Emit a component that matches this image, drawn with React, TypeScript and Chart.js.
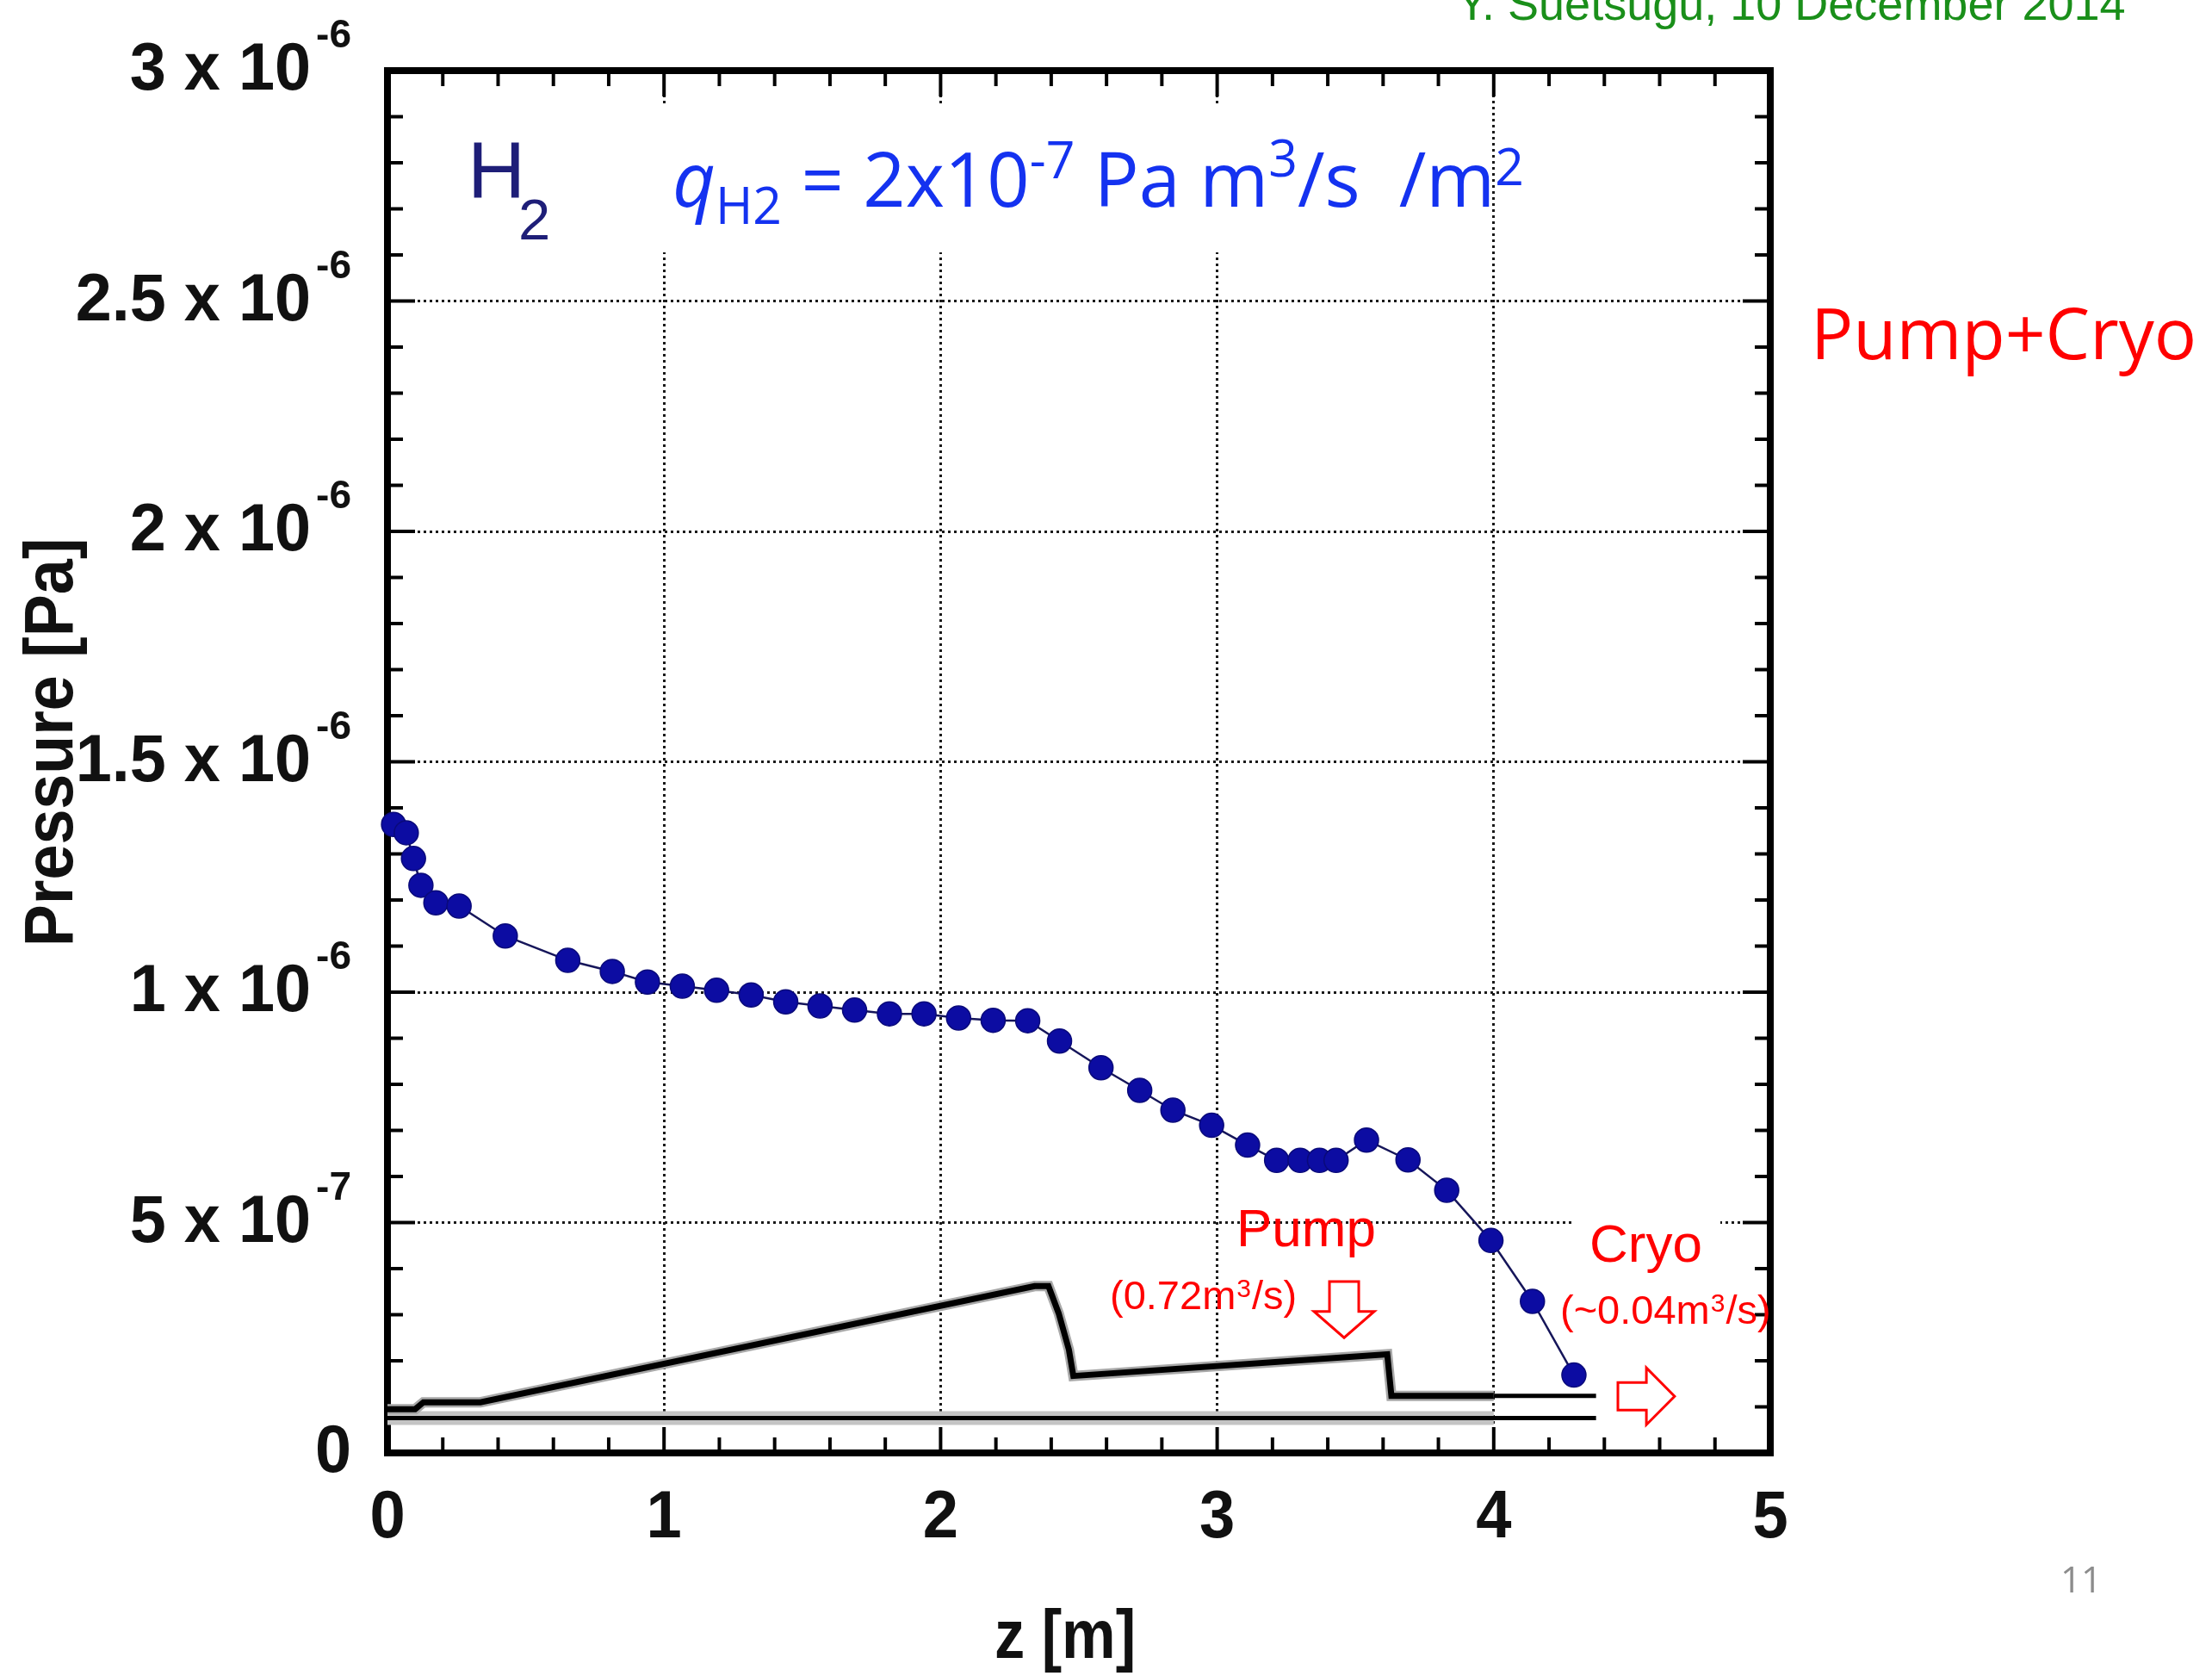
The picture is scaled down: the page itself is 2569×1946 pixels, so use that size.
import React, { useEffect, useRef } from 'react';
import { Chart, registerables } from 'chart.js';

Chart.register(...registerables);

const W = 2569;
const H = 1946;

// Measured pressure profile (z in m, pressure in Pa)
const zPositions = [0.022, 0.068, 0.094, 0.121, 0.175, 0.259, 0.426, 0.652, 0.813, 0.94, 1.066, 1.19, 1.315, 1.44, 1.564, 1.689, 1.815, 1.94, 2.065, 2.19, 2.315, 2.43, 2.58, 2.72, 2.84, 2.98, 3.11, 3.215, 3.30, 3.37, 3.43, 3.54, 3.69, 3.83, 3.99, 4.14, 4.29];
const pressures = [1.364e-6, 1.346e-6, 1.29e-6, 1.232e-6, 1.194e-6, 1.187e-6, 1.122e-6, 1.069e-6, 1.045e-6, 1.022e-6, 1.013e-6, 1.004e-6, 0.994e-6, 0.979e-6, 0.97e-6, 0.961e-6, 0.953e-6, 0.953e-6, 0.944e-6, 0.939e-6, 0.938e-6, 0.894e-6, 0.836e-6, 0.787e-6, 0.744e-6, 0.711e-6, 0.668e-6, 0.635e-6, 0.635e-6, 0.635e-6, 0.635e-6, 0.679e-6, 0.636e-6, 0.57e-6, 0.461e-6, 0.329e-6, 0.169e-6];

// Chamber outline sketch (drawn in the same axes)
const wallZ = [0, 0.1, 0.13, 0.336, 2.34, 2.39, 2.427, 2.464, 2.48, 3.615, 3.63, 4.0];
const wallP = [0.095e-6, 0.095e-6, 0.11e-6, 0.11e-6, 0.362e-6, 0.362e-6, 0.303e-6, 0.224e-6, 0.167e-6, 0.214e-6, 0.124e-6, 0.124e-6];
const wallExtZ = [4.0, 4.37];
const wallExtP = [0.124e-6, 0.124e-6];
const beamLineZ = [0, 4.37];
const beamLineP = [0.0757e-6, 0.0757e-6];
const beamHaloZ = [0, 4.0];
const beamHaloP = [0.0757e-6, 0.0757e-6];

// Axis ticks
const xTickValues = [0, 1, 2, 3, 4, 5];
const xTickLabels = ['0', '1', '2', '3', '4', '5'];
const yTickValues = [0, 5e-7, 1e-6, 1.5e-6, 2e-6, 2.5e-6, 3e-6];
const yTickMain = ['0', '5 x 10', '1 x 10', '1.5 x 10', '2 x 10', '2.5 x 10', '3 x 10'];
const yTickExp = ['', '-7', '-6', '-6', '-6', '-6', '-6'];

const ARIAL = '"Liberation Sans", Arial, sans-serif';
const CAL = '"Open Sans", "Noto Sans", sans-serif';

function pts(xs: number[], ys: number[]) {
  return xs.map((x, i) => ({ x, y: ys[i] }));
}

function txt(ctx: CanvasRenderingContext2D, s: string, x: number, y: number, font: string, color: string, align: CanvasTextAlign = 'left', sx = 1) {
  ctx.save();
  ctx.font = font;
  ctx.fillStyle = color;
  ctx.textAlign = align;
  ctx.textBaseline = 'alphabetic';
  ctx.translate(x, y);
  ctx.scale(sx, 1);
  ctx.fillText(s, 0, 0);
  ctx.restore();
}

function measure(ctx: CanvasRenderingContext2D, s: string, font: string) {
  ctx.save();
  ctx.font = font;
  const w = ctx.measureText(s).width;
  ctx.restore();
  return w;
}

// draws rich text pieces in sequence, squeezed horizontally to fit a target width
function rich(ctx: CanvasRenderingContext2D, pieces: { s: string; font: string; dy: number }[], x: number, y: number, targetW: number, color: string) {
  const ws = pieces.map((p) => measure(ctx, p.s, p.font));
  const total = ws.reduce((a, b) => a + b, 0);
  const sx = targetW / total;
  ctx.save();
  ctx.translate(x, y);
  ctx.scale(sx, 1);
  let cx = 0;
  pieces.forEach((p, i) => {
    ctx.font = p.font;
    ctx.fillStyle = color;
    ctx.textAlign = 'left';
    ctx.textBaseline = 'alphabetic';
    ctx.fillText(p.s, cx, p.dy);
    cx += ws[i];
  });
  ctx.restore();
}

function line(ctx: CanvasRenderingContext2D, x1: number, y1: number, x2: number, y2: number) {
  ctx.beginPath();
  ctx.moveTo(x1, y1);
  ctx.lineTo(x2, y2);
  ctx.stroke();
}

const decorPlugin = {
  id: 'decor',
  beforeDatasetsDraw(chart: any) {
    const { ctx, chartArea: ca, scales } = chart;
    const xs = scales.x;
    const ys = scales.y;
    ctx.save();
    // white backgrounds behind annotation text
    ctx.fillStyle = '#ffffff';
    ctx.fillRect(700, 123, 1020, 170);
    ctx.fillRect(1828, 1395, 170, 80);
    // frame
    ctx.strokeStyle = '#000';
    ctx.lineWidth = 8;
    ctx.strokeRect(ca.left, ca.top, ca.right - ca.left, ca.bottom - ca.top);
    // inward ticks
    ctx.lineWidth = 4;
    for (let i = 0; i <= 25; i++) {
      const px = xs.getPixelForValue(i * 0.2);
      const len = i % 5 === 0 ? 30 : 18;
      line(ctx, px, ca.bottom, px, ca.bottom - len);
      line(ctx, px, ca.top, px, ca.top + len);
    }
    for (let i = 0; i <= 30; i++) {
      const py = ys.getPixelForValue(i * 1e-7);
      const len = i % 5 === 0 ? 32 : 18;
      line(ctx, ca.left, py, ca.left + len, py);
      line(ctx, ca.right, py, ca.right - len, py);
    }
    ctx.restore();
  },
  afterDraw(chart: any) {
    const { ctx, scales } = chart;
    const xs = scales.x;
    const ys = scales.y;
    const tickFont = `bold 78px ${ARIAL}`;
    const expFont = `bold 46px ${ARIAL}`;
    // x tick labels
    xTickValues.forEach((v, i) => {
      txt(ctx, xTickLabels[i], xs.getPixelForValue(v), 1785, tickFont, '#111', 'center', 0.95);
    });
    // y tick labels
    const right = 408;
    yTickValues.forEach((v, i) => {
      const py = ys.getPixelForValue(v);
      const ew = yTickExp[i] ? measure(ctx, yTickExp[i], expFont) : 0;
      const gap = yTickExp[i] ? 6 : 0;
      txt(ctx, yTickMain[i], right - ew - gap, py + 22, tickFont, '#111', 'right', 0.97);
      if (yTickExp[i]) txt(ctx, yTickExp[i], right - ew, py - 27, expFont, '#111', 'left');
    });
    // axis titles
    ctx.save();
    ctx.translate(84, 862);
    ctx.rotate(-Math.PI / 2);
    txt(ctx, 'Pressure [Pa]', 0, 0, `bold 80px ${ARIAL}`, '#111', 'center', 0.92);
    ctx.restore();
    txt(ctx, 'z [m]', 1237, 1925, `bold 80px ${ARIAL}`, '#111', 'center', 0.88);

    // H2 label
    txt(ctx, 'H', 543, 230, `93px ${ARIAL}`, '#1e1e78');
    txt(ctx, '2', 602, 278, `67px ${ARIAL}`, '#1e1e78');

    // q_H2 label
    const big = `88px ${CAL}`;
    const small = `60px ${CAL}`;
    rich(ctx, [
      { s: 'q', font: `italic 88px ${CAL}`, dy: 0 },
      { s: 'H2', font: small, dy: 20 },
      { s: ' = ', font: big, dy: 0 },
      { s: '2x10', font: big, dy: 0 },
      { s: '-7', font: small, dy: -33 },
      { s: ' Pa m', font: big, dy: 0 },
      { s: '3', font: small, dy: -35 },
      { s: '/s  /m', font: big, dy: 0 },
      { s: '2', font: small, dy: -25 },
    ], 781, 240, 989, '#1432f0');

    // side labels
    txt(ctx, 'Pump+Cryo', 2103, 417, `82px ${CAL}`, '#ff0000');
    txt(ctx, 'Y. Suetsugu, 10 December 2014', 1692, 23, `54px ${ARIAL}`, '#1a8f1a');
    txt(ctx, '11', 2393, 1849, `42px ${CAL}`, '#8c8c8c');

    // pump / cryo annotations
    const red = '#ff0000';
    txt(ctx, 'Pump', 1436, 1447, `62px ${ARIAL}`, red);
    txt(ctx, 'Cryo', 1846, 1465, `62px ${ARIAL}`, red);
    const drawRate = (pre: string, post: string, x: number, y: number) => {
      const w1 = measure(ctx, pre, `47px ${ARIAL}`);
      const w2 = measure(ctx, '3', `30px ${ARIAL}`);
      txt(ctx, pre, x, y, `47px ${ARIAL}`, red);
      txt(ctx, '3', x + w1 + 1, y - 14, `30px ${ARIAL}`, red);
      txt(ctx, post, x + w1 + w2 + 2, y, `47px ${ARIAL}`, red);
    };
    drawRate('(0.72m', '/s)', 1289, 1520);
    drawRate('(~0.04m', '/s)', 1812, 1537);

    // hollow arrows
    ctx.save();
    ctx.strokeStyle = red;
    ctx.fillStyle = '#fff';
    ctx.lineWidth = 3;
    ctx.lineJoin = 'miter';
    {
      const cx = xs.getPixelForValue(3.459);
      const t = ys.getPixelForValue(0.372e-6);
      const hb = ys.getPixelForValue(0.307e-6);
      const tip = ys.getPixelForValue(0.25e-6);
      ctx.beginPath();
      ctx.moveTo(cx - 17, t);
      ctx.lineTo(cx + 17, t);
      ctx.lineTo(cx + 17, hb);
      ctx.lineTo(cx + 35, hb);
      ctx.lineTo(cx, tip);
      ctx.lineTo(cx - 35, hb);
      ctx.lineTo(cx - 17, hb);
      ctx.closePath();
      ctx.fill();
      ctx.stroke();
    }
    {
      const cy = ys.getPixelForValue(0.123e-6);
      const l = xs.getPixelForValue(4.449);
      const hb = xs.getPixelForValue(4.552);
      const tip = xs.getPixelForValue(4.654);
      ctx.beginPath();
      ctx.moveTo(l, cy - 16);
      ctx.lineTo(hb, cy - 16);
      ctx.lineTo(hb, cy - 33);
      ctx.lineTo(tip, cy);
      ctx.lineTo(hb, cy + 33);
      ctx.lineTo(hb, cy + 16);
      ctx.lineTo(l, cy + 16);
      ctx.closePath();
      ctx.fill();
      ctx.stroke();
    }
    ctx.restore();
  },
};

export default function App() {
  const ref = useRef<HTMLCanvasElement>(null);
  useEffect(() => {
    const canvas = ref.current as HTMLCanvasElement;
    const gridOpts = { color: '#1a1a1a', lineWidth: 3, drawTicks: false };
    const borderOpts = { display: false, dash: [3, 4] };
    const chart = new Chart(canvas, {
      type: 'scatter',
      data: {
        datasets: [
          {
            label: 'H2 pressure',
            data: pts(zPositions, pressures),
            showLine: true,
            borderColor: '#16165a',
            borderWidth: 2.5,
            pointRadius: 14,
            pointBackgroundColor: '#0c0ca2',
            pointBorderColor: '#0a0a7a',
            pointBorderWidth: 1.5,
            clip: false,
          } as any,
          { label: 'wall', data: pts(wallZ, wallP), showLine: true, borderColor: '#000', borderWidth: 7, pointRadius: 0 } as any,
          { label: 'wall halo', data: pts(wallZ, wallP), showLine: true, borderColor: '#a8a8a8', borderWidth: 12, pointRadius: 0 } as any,
          { label: 'wall ext', data: pts(wallExtZ, wallExtP), showLine: true, borderColor: '#000', borderWidth: 5, pointRadius: 0 } as any,
          { label: 'beam line', data: pts(beamLineZ, beamLineP), showLine: true, borderColor: '#000', borderWidth: 5, pointRadius: 0 } as any,
          { label: 'beam halo', data: pts(beamHaloZ, beamHaloP), showLine: true, borderColor: '#c4c4c4', borderWidth: 16, pointRadius: 0 } as any,
        ],
      },
      options: {
        animation: false,
        responsive: false,
        devicePixelRatio: 1,
        layout: { padding: { left: 450, right: 513, top: 82, bottom: 259 } },
        plugins: { legend: { display: false }, tooltip: { enabled: false } },
        scales: {
          x: {
            type: 'linear',
            min: 0,
            max: 5,
            ticks: { display: false, stepSize: 1 },
            grid: gridOpts,
            border: borderOpts,
            afterFit: (s: any) => { s.height = 0; },
          },
          y: {
            type: 'linear',
            min: 0,
            max: 3e-6,
            ticks: { display: false, stepSize: 5e-7 },
            grid: gridOpts,
            border: borderOpts,
            afterFit: (s: any) => { s.width = 0; },
          },
        },
      } as any,
      plugins: [decorPlugin as any],
    });
    return () => chart.destroy();
  }, []);
  return (
    <div style={{ position: 'absolute', left: 0, top: 0, width: W, height: H, background: '#fff', overflow: 'hidden' }}>
      <canvas ref={ref} width={W} height={H} style={{ width: W, height: H, display: 'block' }} />
    </div>
  );
}
